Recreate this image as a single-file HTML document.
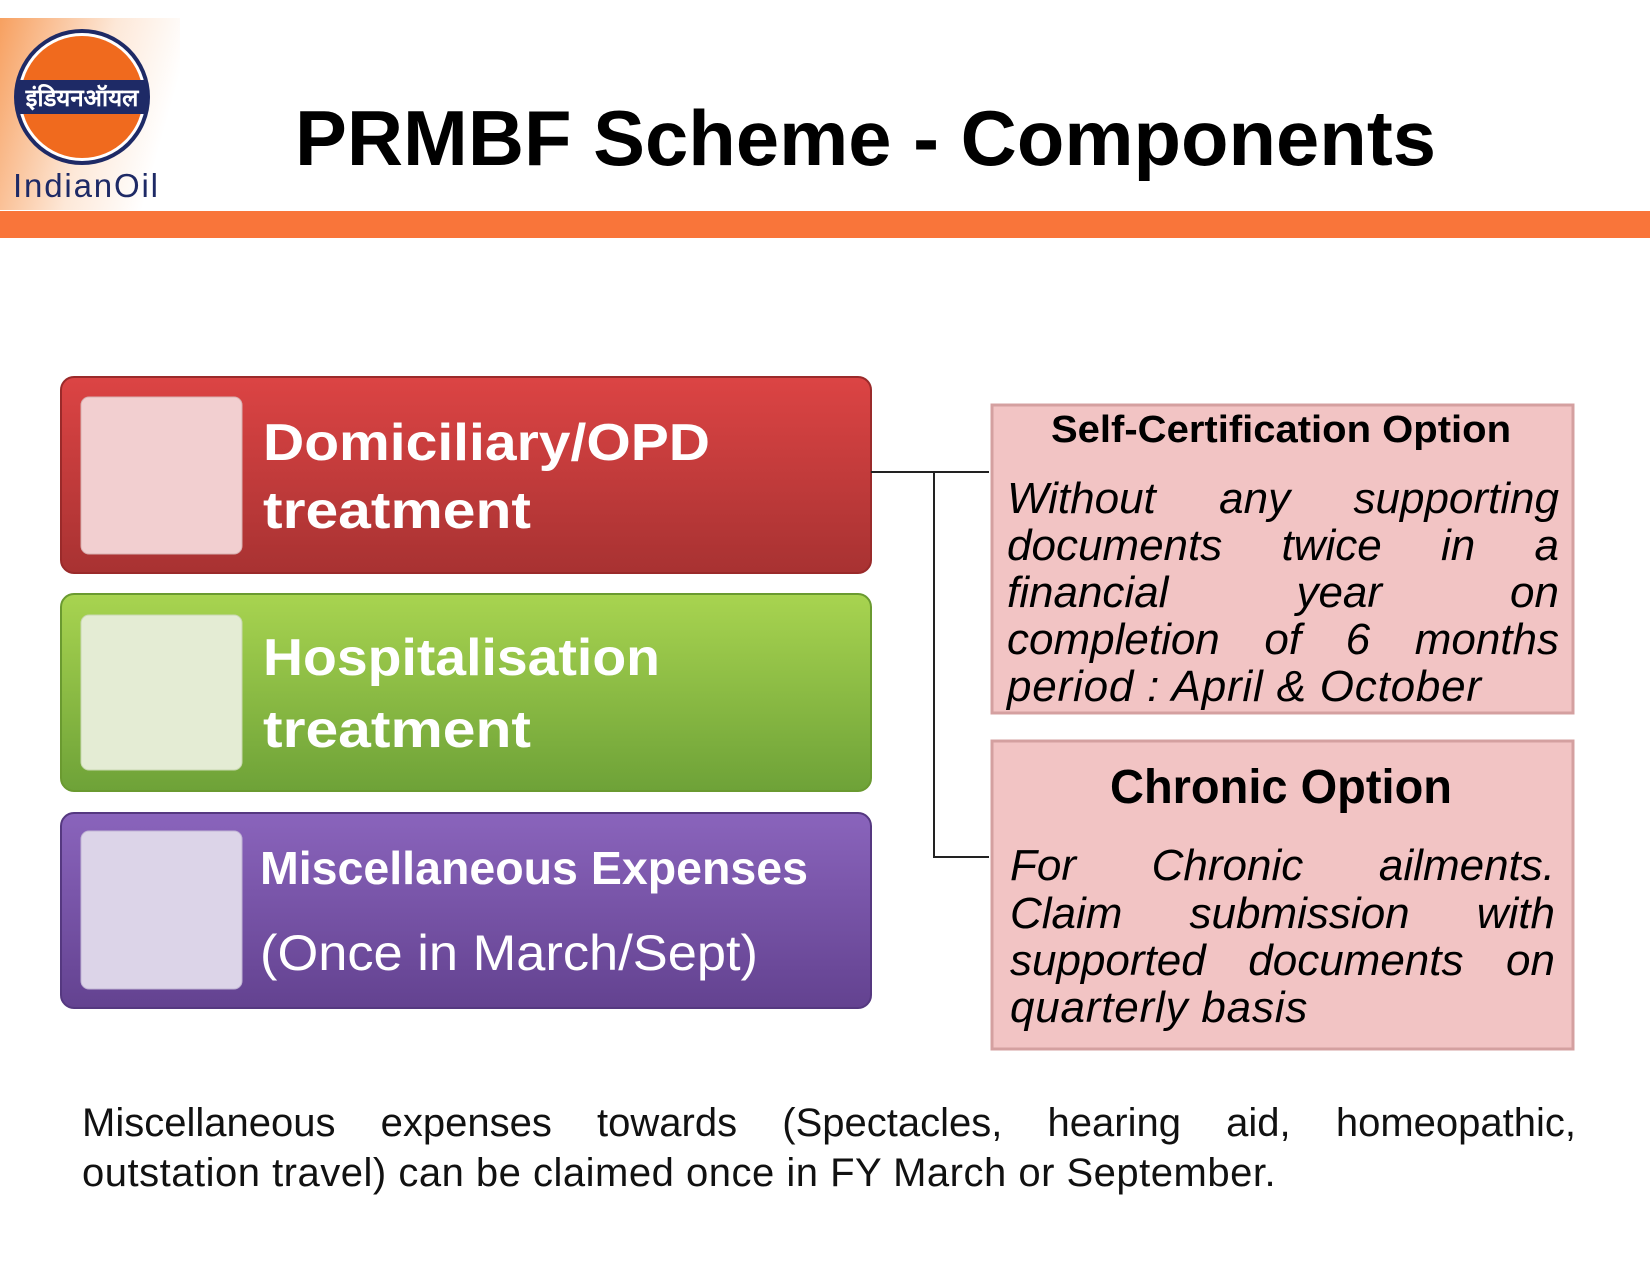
<!DOCTYPE html>
<html><head><meta charset="utf-8">
<style>
body{margin:0;width:1650px;height:1275px;background:#fff;position:relative;overflow:hidden;font-family:"Liberation Sans",sans-serif}
.l{position:absolute;white-space:nowrap;text-align:justify;text-align-last:justify}
.it{font-style:italic;font-size:44px;color:#000}
.bt{font-size:40px;color:#111}
</style></head><body>
<svg width="1650" height="1275" style="position:absolute;left:0;top:0">
<defs>
<linearGradient id="lg" x1="0" y1="0" x2="1" y2="0.3"><stop offset="0" stop-color="#f7a060"/><stop offset="0.6" stop-color="#fde8d8"/><stop offset="1" stop-color="#fff"/></linearGradient>
<linearGradient id="rg" x1="0" y1="0" x2="0" y2="1"><stop offset="0" stop-color="#dc4444"/><stop offset="1" stop-color="#a83232"/></linearGradient>
<linearGradient id="gg" x1="0" y1="0" x2="0" y2="1"><stop offset="0" stop-color="#a8d450"/><stop offset="1" stop-color="#6ea238"/></linearGradient>
<linearGradient id="pg" x1="0" y1="0" x2="0" y2="1"><stop offset="0" stop-color="#8a64bc"/><stop offset="1" stop-color="#634290"/></linearGradient>
</defs>
<rect x="0" y="18" width="180" height="192" fill="url(#lg)"/>
<circle cx="82" cy="97" r="68" fill="#1e2a66"/>
<circle cx="82" cy="97" r="64" fill="#fff"/>
<circle cx="82" cy="97" r="61" fill="#f06a1e"/>
<rect x="17" y="80" width="130" height="34" fill="#1e2a66"/>
<text x="82" y="106" text-anchor="middle" font-family="'Noto Sans CJK SC',sans-serif" font-size="24" font-weight="bold" fill="#fff">इंडियनऑयल</text>
<text x="13" y="197" font-family="Liberation Sans" font-size="33" fill="#1e2a66" textLength="145">IndianOil</text>
<rect x="0" y="211" width="1650" height="27" fill="#f9753a"/>
<text x="295" y="165" font-family="Liberation Sans" font-weight="bold" font-size="78" fill="#000" textLength="1141" lengthAdjust="spacingAndGlyphs">PRMBF Scheme - Components</text>

<rect x="61" y="377" width="810" height="196" rx="13" fill="url(#rg)" stroke="#9a2a2a" stroke-width="2"/>
<rect x="81" y="397" width="161" height="157" rx="8" fill="#f2cfd0" stroke="#d8b0b0"/>
<text x="263" y="460" font-family="Liberation Sans" font-weight="bold" font-size="52" fill="#fff" textLength="447" lengthAdjust="spacingAndGlyphs">Domiciliary/OPD</text>
<text x="263" y="528" font-family="Liberation Sans" font-weight="bold" font-size="52" fill="#fff" textLength="268" lengthAdjust="spacingAndGlyphs">treatment</text>

<rect x="61" y="594" width="810" height="197" rx="13" fill="url(#gg)" stroke="#6a9a30" stroke-width="2"/>
<rect x="81" y="615" width="161" height="155" rx="8" fill="#e4ecd4" stroke="#c8d8b0"/>
<text x="263" y="675" font-family="Liberation Sans" font-weight="bold" font-size="52" fill="#fff" textLength="397" lengthAdjust="spacingAndGlyphs">Hospitalisation</text>
<text x="263" y="747" font-family="Liberation Sans" font-weight="bold" font-size="52" fill="#fff" textLength="268" lengthAdjust="spacingAndGlyphs">treatment</text>

<rect x="61" y="813" width="810" height="195" rx="13" fill="url(#pg)" stroke="#553880" stroke-width="2"/>
<rect x="81" y="831" width="161" height="158" rx="8" fill="#dcd4e8" stroke="#c0b4d4"/>
<text x="260" y="884" font-family="Liberation Sans" font-weight="bold" font-size="46" fill="#fff" textLength="548" lengthAdjust="spacingAndGlyphs">Miscellaneous Expenses</text>
<text x="260" y="970" font-family="Liberation Sans" font-size="50" fill="#fff" textLength="498" lengthAdjust="spacingAndGlyphs">(Once in March/Sept)</text>

<path d="M871 472 H989 M934 472 V857 H989" stroke="#222" stroke-width="2" fill="none"/>

<rect x="992" y="405" width="581" height="308" fill="#f2c4c4" stroke="#d4a0a0" stroke-width="3"/>
<text x="1281" y="442" text-anchor="middle" font-family="Liberation Sans" font-weight="bold" font-size="38" fill="#000" textLength="460" lengthAdjust="spacingAndGlyphs">Self-Certification Option</text>
<rect x="992" y="741" width="581" height="308" fill="#f2c4c4" stroke="#d4a0a0" stroke-width="3"/>
<text x="1281" y="803" text-anchor="middle" font-family="Liberation Sans" font-weight="bold" font-size="48" fill="#000" textLength="342" lengthAdjust="spacingAndGlyphs">Chronic Option</text>
</svg>

<div class="l it" style="left:1007px;top:474px;width:552px">Without any supporting</div>
<div class="l it" style="left:1007px;top:521px;width:552px">documents twice in a</div>
<div class="l it" style="left:1007px;top:568px;width:552px">financial year on</div>
<div class="l it" style="left:1007px;top:615px;width:552px">completion of 6 months</div>
<div class="l it" style="left:1007px;top:662px;width:500px;text-align-last:left;letter-spacing:0.8px">period : April &amp; October</div>

<div class="l it" style="left:1010px;top:841px;width:545px">For Chronic ailments.</div>
<div class="l it" style="left:1010px;top:889px;width:545px">Claim submission with</div>
<div class="l it" style="left:1010px;top:936px;width:545px">supported documents on</div>
<div class="l it" style="left:1010px;top:983px;width:545px;text-align-last:left;letter-spacing:0.8px">quarterly basis</div>

<div class="l bt" style="left:82px;top:1101px;width:1494px">Miscellaneous expenses towards (Spectacles, hearing aid, homeopathic,</div>
<div class="l bt" style="left:82px;top:1151px;width:1494px;text-align-last:left;letter-spacing:0.5px">outstation travel) can be claimed once in FY March or September.</div>
</body></html>
